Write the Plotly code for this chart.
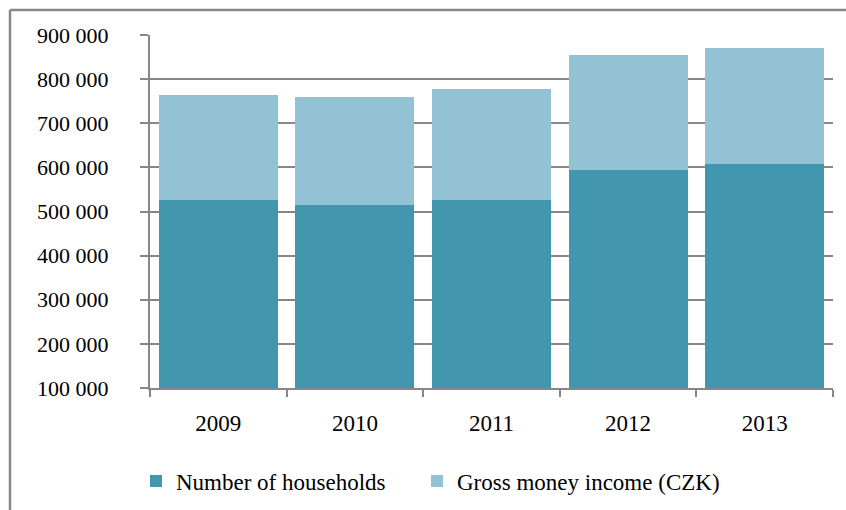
import plotly.graph_objects as go

# Households and gross money income, 2009-2013
years = ["2009", "2010", "2011", "2012", "2013"]
households = [526000, 515000, 526000, 594000, 607000]
gross_income = [239000, 244000, 251000, 260000, 263000]

y_ticks = [100000, 200000, 300000, 400000, 500000, 600000, 700000, 800000, 900000]

DARK = "#4297AF"
LIGHT = "#92C2D3"
GRID = "#878787"
FONT = "Liberation Serif, Times New Roman, serif"

W, H = 846, 510
ML, MR, MT, MB = 150, 13, 35, 122
PW, PH = W - ML - MR, H - MT - MB

fig = go.Figure()
fig.add_trace(go.Bar(x=years, y=households, name="Number of households",
                     marker=dict(color=DARK, line=dict(width=0)), legend="legend"))
fig.add_trace(go.Bar(x=years, y=gross_income, name="Gross money income (CZK)",
                     marker=dict(color=LIGHT, line=dict(width=0)), legend="legend2"))

# outer frame of the chart area (top and left edges visible)
fx = (10 - ML) / PW
fy = (H - MB - 10) / PH
fig.add_shape(type="line", xref="paper", yref="paper", x0=fx, x1=1.2, y0=fy, y1=fy,
              line=dict(color=GRID, width=2.5))
fig.add_shape(type="line", xref="paper", yref="paper", x0=fx, x1=fx, y0=fy, y1=-0.6,
              line=dict(color=GRID, width=2.5))

legend_common = dict(
    orientation="h",
    xref="container", yref="container",
    xanchor="left", yanchor="middle",
    y=1 - 481 / H,
    font=dict(family=FONT, size=23, color="black"),
    itemwidth=30,
    bgcolor="rgba(0,0,0,0)",
)

fig.update_layout(
    width=W, height=H,
    margin=dict(l=ML, r=MR, t=MT, b=MB, pad=0, autoexpand=False),
    barmode="stack",
    bargap=0.13,
    paper_bgcolor="white",
    plot_bgcolor="white",
    separators=". ",
    font=dict(family=FONT, size=22, color="black"),
    showlegend=True,
    legend=dict(legend_common, x=136 / W),
    legend2=dict(legend_common, x=417 / W),
)

fig.update_xaxes(
    type="category",
    showline=True, linecolor=GRID, linewidth=2,
    ticks="outside", tickson="boundaries", ticklen=7, tickwidth=2, tickcolor=GRID,
    tickfont=dict(family=FONT, size=23, color="black"),
    ticklabelstandoff=13,
    showgrid=False,
)
fig.update_yaxes(
    range=[100000, 900000],
    tickvals=y_ticks,
    tickformat=",d",
    showline=True, linecolor=GRID, linewidth=2,
    ticks="outside", ticklen=8, tickwidth=2, tickcolor=GRID,
    tickfont=dict(family=FONT, size=22, color="black"),
    ticklabelstandoff=27,
    showgrid=True, gridcolor=GRID, gridwidth=2,
    zeroline=False,
)

fig.write_html("out.html")
